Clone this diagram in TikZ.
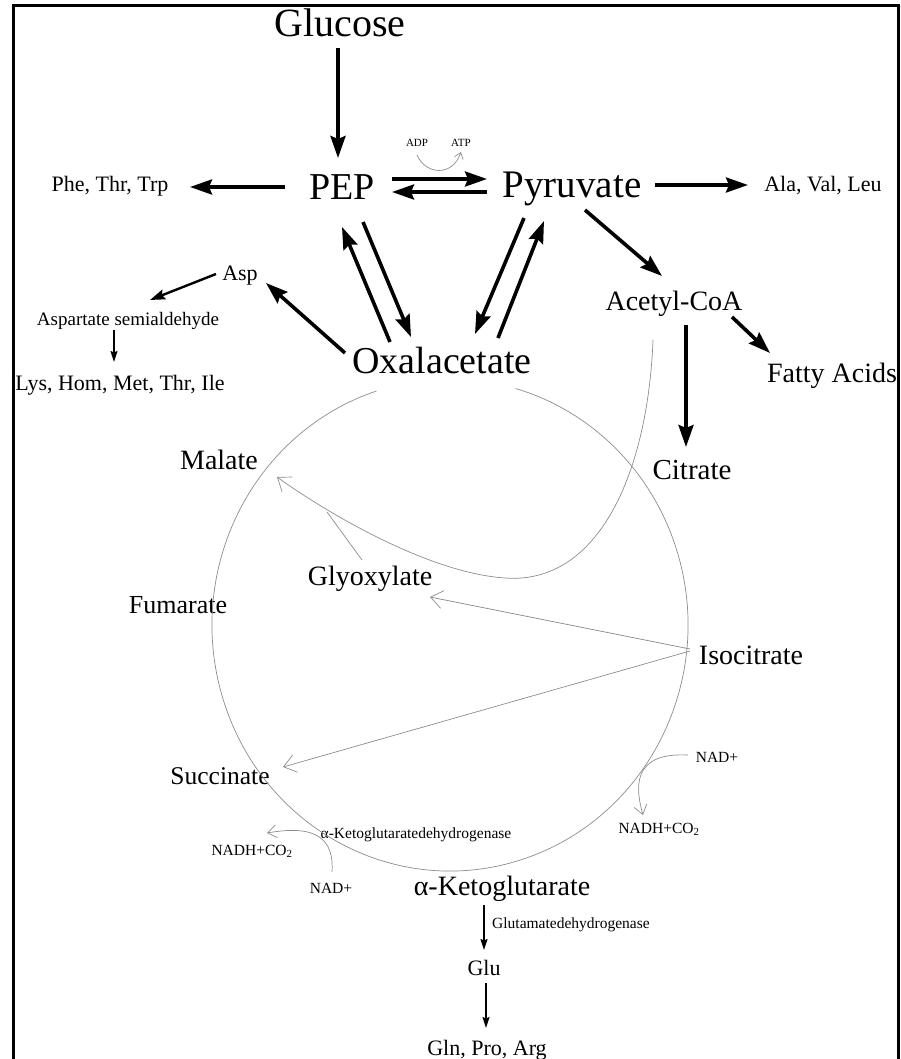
\documentclass[tikz,border=0pt]{standalone}
\usepackage{fontspec}
\setmainfont{Liberation Serif}
\usetikzlibrary{arrows.meta}
\begin{document}
\begin{tikzpicture}[x=1pt,y=1pt,
  txt/.style={inner sep=0pt, anchor=base},
  fbig/.style={txt, font=\fontsize{38}{40}\selectfont},
  fmid/.style={txt, font=\fontsize{28}{30}\selectfont},
  fsmall/.style={txt, font=\fontsize{22}{24}\selectfont},
  fsemi/.style={txt, font=\fontsize{19}{21}\selectfont},
  ftiny/.style={txt, font=\fontsize{15.5}{17}\selectfont},
  fmini/.style={txt, font=\fontsize{11}{12}\selectfont},
  thickarr/.style={line width=3.6pt, -{Stealth[length=22pt,width=15pt,inset=3pt]}},
  medarr/.style={line width=2.4pt, -{Stealth[length=15pt,width=10pt,inset=2pt]}},
  thinarr/.style={line width=1.4pt, -{Stealth[length=11pt,width=7pt,inset=1.5pt]}},
  grayarr/.style={draw=black!45, line width=0.7pt, -{Straight Barb[length=12pt,width=18pt]}},
  grayline/.style={draw=black!45, line width=0.7pt},
  frame/.style={line width=3pt}
]
\useasboundingbox (0,0) rectangle (900,-1059);
% frame
\coordinate (fbl) at (13,-1059);
\coordinate (ftl) at (13,-6);
\coordinate (ftr) at (898,-6);
\coordinate (fbr) at (898,-1059);
\draw[frame] (fbl) -- (ftl) -- (ftr) -- (fbr);

% text nodes
\node[txt, font=\fontsize{40}{42}\selectfont] (glucose) at (340,-37) {Glucose};
\node[fbig] (pep) at (342,-200) {PEP};
\node[txt, font=\fontsize{39}{41}\selectfont] (pyr) at (572,-198) {Pyruvate};
\node[fsmall] (phe) at (110,-192) {Phe, Thr, Trp};
\node[fsmall] (ala) at (823,-192) {Ala, Val, Leu};
\node[fmini] (adp) at (417,-147) {ADP};
\node[fmini] (atp) at (461,-147) {ATP};
\node[fmid] (acoa) at (674,-310) {Acetyl-CoA};
\node[fmid] (fatty) at (832,-382) {Fatty Acids};
\node[fbig] (oaa) at (442,-373) {Oxalacetate};
\node[fsmall] (asp) at (240,-280) {Asp};
\node[fsemi] (asa) at (128,-325) {Aspartate semialdehyde};
\node[fsmall] (lys) at (120,-390) {Lys, Hom, Met, Thr, Ile};
\node[txt, font=\fontsize{29}{31}\selectfont] (cit) at (692,-479) {Citrate};
\node[fmid] (mal) at (219,-469) {Malate};
\node[fmid] (gly) at (370,-585) {Glyoxylate};
\node[txt, font=\fontsize{26}{28}\selectfont] (fum) at (178,-613) {Fumarate};
\node[fmid] (iso) at (751,-664) {Isocitrate};
\node[txt, font=\fontsize{25.5}{28}\selectfont] (suc) at (220,-784) {Succinate};
\node[fmid] (akg) at (502,-895) {α-Ketoglutarate};
\node[ftiny] (akgdh) at (416,-838) {α-Ketoglutaratedehydrogenase};
\node[ftiny] (nadhl) at (252,-855) {NADH+CO\textsubscript{2}};
\node[ftiny] (nadl) at (331,-893) {NAD+};
\node[ftiny] (nadr) at (717,-762) {NAD+};
\node[ftiny] (nadhr) at (659,-833) {NADH+CO\textsubscript{2}};
\node[ftiny, anchor=base west] (gdh) at (492,-928) {Glutamatedehydrogenase};
\node[fsmall] (glu) at (484,-975) {Glu};
\node[fsmall] (gln) at (487,-1055) {Gln, Pro, Arg};

% TCA circle
\coordinate (tcac) at (450,-625);
\draw[grayline] (tcac) ++(108:238pt and 246pt) arc[start angle=108, end angle=434, x radius=238pt, y radius=246pt];

% arrow end points
\coordinate (g1) at (338,-48);   \coordinate (g2) at (338,-158);
\coordinate (pp1) at (392,-179); \coordinate (pp2) at (487,-179);
\coordinate (pp3) at (487,-192); \coordinate (pp4) at (392,-192);
\coordinate (ph1) at (285,-187); \coordinate (ph2) at (190,-187);
\coordinate (al1) at (655,-185); \coordinate (al2) at (748,-185);
\coordinate (ac1) at (585,-210); \coordinate (ac2) at (662,-276);
\coordinate (ci1) at (686,-325); \coordinate (ci2) at (686,-447);
\coordinate (fa1) at (732,-317); \coordinate (fa2) at (770,-353);
\coordinate (op1) at (390,-342); \coordinate (op2) at (342,-227);
\coordinate (po1) at (363,-222); \coordinate (po2) at (411,-337);
\coordinate (yo1) at (524,-218); \coordinate (yo2) at (475,-334);
\coordinate (oy1) at (498,-338); \coordinate (oy2) at (544,-221);
\coordinate (oa1) at (345,-353); \coordinate (oa2) at (266,-283);
\coordinate (as1) at (216,-274); \coordinate (as2) at (150,-300);
\coordinate (ly1) at (114,-330); \coordinate (ly2) at (114,-362);
\coordinate (kg1) at (484,-905); \coordinate (kg2) at (484,-950);
\coordinate (gl1) at (486,-983); \coordinate (gl2) at (486,-1028);

\draw[thickarr] (g1) -- (g2);
\draw[thickarr] (pp1) -- (pp2);
\draw[thickarr] (pp3) -- (pp4);
\draw[thickarr] (ph1) -- (ph2);
\draw[thickarr] (al1) -- (al2);
\draw[thickarr] (ac1) -- (ac2);
\draw[thickarr] (ci1) -- (ci2);
\draw[thickarr] (fa1) -- (fa2);
\draw[thickarr] (op1) -- (op2);
\draw[thickarr] (po1) -- (po2);
\draw[thickarr] (yo1) -- (yo2);
\draw[thickarr] (oy1) -- (oy2);
\draw[thickarr] (oa1) -- (oa2);
\draw[medarr] (as1) -- (as2);
\draw[thinarr] (ly1) -- (ly2);
\draw[thinarr] (kg1) -- (kg2);
\draw[thinarr] (gl1) -- (gl2);

% gray connectors
\coordinate (adp1) at (417,-155); \coordinate (atp1) at (461,-152);
\draw[grayarr, -{Straight Barb[length=6pt,width=9pt]}] (adp1) .. controls (425,-174) and (452,-178) .. (atp1);

\coordinate (acs) at (653,-340); \coordinate (acm) at (505,-578); \coordinate (malt) at (277,-477);
\draw[grayarr] (acs) .. controls (648,-470) and (600,-585) .. (acm) .. controls (430,-573) and (330,-515) .. (malt);
\coordinate (gly1) at (362,-560); \coordinate (gly2) at (327,-512);
\draw[grayline] (gly1) -- (gly2);

\coordinate (iso1) at (690,-649); \coordinate (glyt) at (430,-597);
\coordinate (iso2) at (690,-651); \coordinate (suct) at (283,-767);
\draw[grayarr] (iso1) -- (glyt);
\draw[grayarr] (iso2) -- (suct);

\coordinate (nl1) at (332,-872); \coordinate (nl2) at (267,-833);
\draw[grayarr, -{Straight Barb[length=9pt,width=13pt]}] (nl1) .. controls (334,-840) and (318,-824) .. (nl2);
\coordinate (nr1) at (688,-755); \coordinate (nr2) at (643,-815);
\draw[grayarr, -{Straight Barb[length=9pt,width=13pt]}] (nr1) .. controls (630,-752) and (636,-790) .. (nr2);
\end{tikzpicture}
\end{document}
